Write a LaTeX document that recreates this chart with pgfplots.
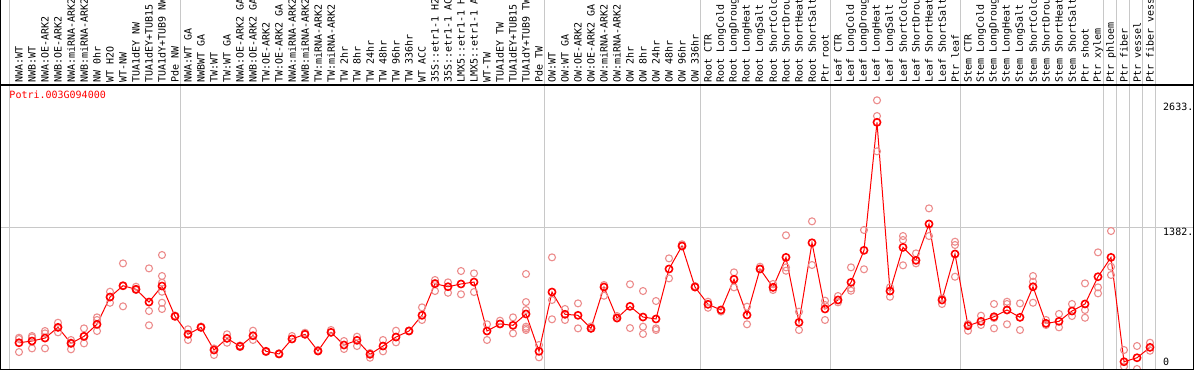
\documentclass[border=0pt]{standalone}
\usepackage{fontspec}
\setmainfont{DejaVu Sans Mono}
\usepackage{pgfplots}
\pgfplotsset{compat=1.18}
\definecolor{repc}{RGB}{236,140,140}
\definecolor{gridc}{RGB}{200,200,200}
\newcommand\lf{\fontsize{10bp}{12bp}\selectfont}
\begin{document}
\begin{tikzpicture}
\begin{axis}[
 scale only axis, width=1194bp, height=370bp,
 xmin=-1.4615, xmax=90.385, ymin=-9.8, ymax=3616.2,
 axis line style={draw=none},
 major tick length=0pt, minor tick length=0pt,
 xtick={0,...,87},
 xticklabels={NWA:WT, NWB:WT, NWA:OE-ARK2, NWB:OE-ARK2, NWA:miRNA-ARK2, NWB:miRNA-ARK2, NW 0hr, WT H2O, WT-NW, TUA1dEY NW, TUA1dEY+TUB15, TUA1dY+TUB9 NW, Pde NW,
  NWA:WT GA, NWBWT GA, TW:WT, TW:WT GA, NWA:OE-ARK2 GA, NWB:OE-ARK2 GA, TW:OE-ARK2, TW:OE-ARK2 GA, NWA:miRNA-ARK2, NWB:miRNA-ARK2, TW:miRNA-ARK2, TW:miRNA-ARK2, TW 2hr, TW 8hr, TW 24hr, TW 48hr, TW 96hr, TW 336hr, WT ACC, 35S::etr1-1 H2, 35S::etr1-1 AC, LMX5::etr1-1 H, LMX5::etr1-1 A, WT-TW, TUA1dEY TW, TUA1dEY+TUB15, TUA1dY+TUB9 TW, Pde TW,
  OW:WT, OW:WT GA, OW:OE-ARK2, OW:OE-ARK2 GA, OW:miRNA-ARK2, OW:miRNA-ARK2, OW 2hr, OW 8hr, OW 24hr, OW 48hr, OW 96hr, OW 336hr,
  Root CTR, Root LongCold, Root LongDroug, Root LongHeat, Root LongSalt, Root ShortCold, Root ShortDrou, Root ShortHeat, Root ShortSalt, Ptr root,
  Leaf CTR, Leaf LongCold, Leaf LongDroug, Leaf LongHeat, Leaf LongSalt, Leaf ShortCold, Leaf ShortDrou, Leaf ShortHeat, Leaf ShortSalt, Ptr leaf,
  Stem CTR, Stem LongCold, Stem LongDroug, Stem LongHeat, Stem LongSalt, Stem ShortCold, Stem ShortDrou, Stem ShortHeat, Stem ShortSalt, Ptr shoot,
  Ptr xylem, Ptr phloem, Ptr fiber, Ptr vessel, Ptr fiber vess},
 xticklabel pos=upper,
 xticklabel style={yshift=-83bp, rotate=90, anchor=west, inner sep=0pt, font=\lf},
 minor xtick={-0.7,12.4,40.4,52.4,62.4,72.4,83.4,84.4,85.4,86.4,87.4},
 xminorgrids,
 ytick={1382}, yticklabels={\raisebox{-8bp}{1382.}},
 extra y ticks={0,2633}, extra y tick labels={\raisebox{3bp}{0},\raisebox{-10bp}{2633.}},
 extra y tick style={grid=none},
 ymajorgrids,
 yticklabel pos=upper,
 yticklabel style={anchor=base west, inner sep=0pt, xshift=-31bp, font=\lf},
 major grid style={gridc, line width=1bp},
 minor grid style={gridc, line width=1bp},
]
\addplot[only marks, mark=o, color=repc, mark size=3.5bp, mark options={line width=1.1bp}] table {
x y
0 306
0 294
0 166
1 323
1 310
1 202
2 372
2 349
2 202
3 453
3 359
3 408
4 284
4 193
4 259
5 398
5 251
5 323
6 506
6 480
6 372
7 757
7 649
7 705
8 1035
8 614
8 813
9 806
9 781
9 774
10 986
10 568
10 428
11 1117
11 911
11 845
11 757
11 649
11 588
12 516
12 524
13 389
13 284
13 343
14 408
14 416
15 137
15 201
16 340
16 257
17 222
17 230
17 215
18 375
18 284
19 173
19 166
20 147
20 154
21 323
21 294
22 340
22 355
23 176
23 186
24 382
24 359
25 274
25 196
26 316
26 225
27 110
27 156
28 284
28 173
29 375
29 261
30 372
30 377
31 604
31 480
32 872
32 764
32 842
33 849
33 747
34 960
34 732
35 937
35 754
36 438
36 284
37 473
37 441
38 506
38 349
39 931
39 656
39 578
39 414
39 398
39 382
40 235
40 114
41 1094
41 676
41 487
42 588
42 480
43 643
43 398
44 398
44 416
45 823
45 718
46 499
46 519
47 830
47 401
48 764
48 414
48 343
49 666
49 398
49 382
50 1084
50 888
51 1205
51 1222
52 803
52 813
53 659
53 600
54 578
54 563
55 947
55 800
56 610
56 438
57 1002
57 980
58 833
58 774
59 1310
59 996
59 963
60 561
60 382
61 1447
61 1019
62 669
62 627
62 480
63 715
63 653
64 996
64 790
64 767
65 1362
65 977
66 2633
66 2479
66 2133
67 800
67 708
68 1303
68 1264
68 1016
69 1133
69 1035
70 1574
70 1303
71 692
71 637
72 1247
72 1215
72 904
73 375
73 441
74 522
74 431
75 637
75 398
75 499
76 659
76 637
76 438
77 643
77 382
78 911
78 855
78 649
79 480
79 431
80 539
80 408
81 637
81 519
82 839
82 578
82 502
83 1143
83 800
83 741
84 1352
84 1002
84 921
85 186
85 25
86 225
86 0
87 257
87 179
};
\addplot[color=red, line width=1bp, mark=o, mark size=3.6bp, mark options={line width=1.6bp}] table {
x y
0 257
1 274
2 303
3 408
4 251
5 320
6 438
7 705
8 816
9 781
10 656
11 813
12 516
13 340
14 408
15 186
16 300
17 222
18 326
19 173
20 147
21 294
22 340
23 176
24 359
25 235
26 281
27 144
28 225
29 313
30 372
31 526
32 836
33 806
34 833
35 852
36 372
37 441
38 428
39 539
40 173
41 754
42 536
43 526
44 398
45 803
46 499
47 614
48 509
49 490
50 980
51 1205
52 803
53 634
54 578
55 879
56 529
57 980
58 800
59 1094
60 457
61 1237
62 588
63 676
64 849
65 1163
66 2417
67 764
68 1192
69 1065
70 1421
71 676
72 1127
73 424
74 467
75 512
76 578
77 506
78 806
79 447
80 467
81 568
82 637
83 904
84 1094
85 71
86 110
87 212
};
\end{axis}
\draw[line width=2bp] (current axis.north west) -- (current axis.south west) -- (current axis.south east) -- (current axis.north east);
\draw[line width=1.5bp] ([yshift=-85bp]current axis.north west) -- ([yshift=-85bp]current axis.north east);
\node[anchor=base west, text=red, inner sep=0pt, font=\lf] at ([xshift=9.3bp, yshift=-99bp]current axis.north west) {Potri.003G094000};
\pgfresetboundingbox
\path[use as bounding box] (current axis.south west) rectangle (current axis.north east);
\end{tikzpicture}
\end{document}
